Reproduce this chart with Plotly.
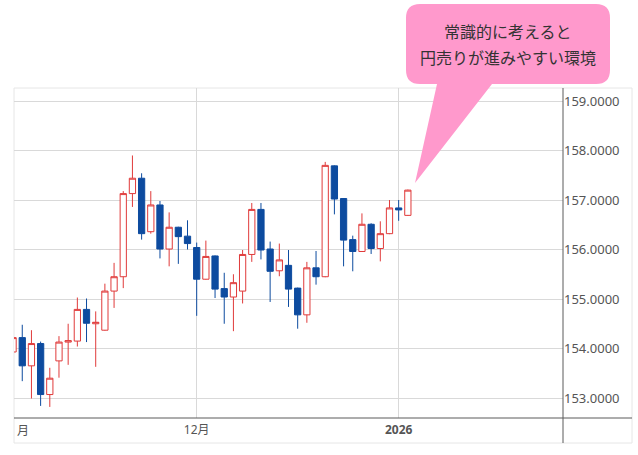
import plotly.graph_objects as go

# ---------------- data ----------------
dates = [
    "2025-11-03", "2025-11-04", "2025-11-05", "2025-11-06", "2025-11-07",
    "2025-11-10", "2025-11-11", "2025-11-12", "2025-11-13", "2025-11-14",
    "2025-11-17", "2025-11-18", "2025-11-19", "2025-11-20", "2025-11-21",
    "2025-11-24", "2025-11-25", "2025-11-26", "2025-11-27", "2025-11-28",
    "2025-12-01", "2025-12-02", "2025-12-03", "2025-12-04", "2025-12-05",
    "2025-12-08", "2025-12-09", "2025-12-10", "2025-12-11", "2025-12-12",
    "2025-12-15", "2025-12-16", "2025-12-17", "2025-12-18", "2025-12-19",
    "2025-12-22", "2025-12-23", "2025-12-24", "2025-12-26", "2025-12-29",
    "2025-12-30", "2025-12-31", "2026-01-02", "2026-01-05",
]
opens = [
    153.93, 154.22, 153.65, 154.10, 153.07,
    153.75, 154.13, 154.15, 154.79, 154.50,
    154.37, 155.16, 155.45, 157.13, 157.44,
    156.36, 156.90, 156.01, 156.45, 156.27,
    156.04, 155.40, 155.87, 155.21, 155.04,
    155.16, 155.90, 156.81, 156.01, 155.57,
    155.68, 155.22, 154.68, 155.63, 155.45,
    157.69, 157.03, 156.20, 155.96, 156.51,
    156.02, 156.32, 156.84, 156.69,
]
highs = [
    154.30, 154.48, 154.37, 154.14, 153.61,
    154.25, 154.50, 155.03, 155.01, 154.75,
    155.31, 155.73, 157.18, 157.90, 157.54,
    157.18, 156.98, 156.75, 156.46, 156.59,
    156.14, 156.18, 155.88, 155.53, 155.50,
    155.99, 156.94, 156.94, 156.16, 156.12,
    155.99, 155.23, 155.75, 155.97, 157.77,
    157.70, 157.04, 156.28, 156.73, 156.53,
    156.57, 157.00, 157.00, 157.21,
]
lows = [
    153.85, 153.34, 152.99, 152.84, 152.82,
    153.41, 153.67, 154.04, 154.13, 153.63,
    154.36, 154.82, 155.22, 156.86, 156.20,
    156.32, 155.82, 155.66, 155.71, 156.00,
    154.66, 155.39, 155.02, 154.50, 154.35,
    154.91, 155.75, 155.80, 154.94, 155.46,
    154.84, 154.40, 154.52, 155.29, 155.44,
    156.71, 155.66, 155.56, 155.95, 155.91,
    155.76, 156.31, 156.58, 156.68,
]
closes = [
    154.22, 153.65, 154.10, 153.07, 153.40,
    154.13, 154.16, 154.79, 154.51, 154.53,
    155.16, 155.45, 157.13, 157.44, 156.32,
    156.90, 156.01, 156.45, 156.26, 156.12,
    155.40, 155.86, 155.20, 155.04, 155.33,
    155.90, 156.81, 155.99, 155.56, 155.79,
    155.20, 154.68, 155.63, 155.45, 157.70,
    157.02, 156.19, 155.96, 156.51, 156.02,
    156.32, 156.84, 156.80, 157.20,
]

month_tick_dates = ["2025-11-03", "2025-12-01", "2026-01-02"]
month_tick_labels = ["11月", "12月", "<b>2026</b>"]
price_ticks = [153, 154, 155, 156, 157, 158, 159]

callout_line1 = "常識的に考えると"
callout_line2 = "円売りが進みやすい環境"

# ---------------- style / layout ----------------
W, H = 638, 455
L, R, T, B = 14, 563, 88, 418
RED = "#e03a3a"
BLUE = "#0d4b9f"
GRID = "#d9d9d9"
AXIS = "#5a5a5a"
PINK = "#ff99cc"
FONT = "Noto Sans, Noto Sans CJK JP, sans-serif"


def px(x):
    return (x - L) / (R - L)


def py(y):
    return (B - y) / (B - T)


fig = go.Figure(
    go.Candlestick(
        x=dates, open=opens, high=highs, low=lows, close=closes,
        increasing=dict(line=dict(color=RED, width=1), fillcolor="white"),
        decreasing=dict(line=dict(color=BLUE, width=1), fillcolor=BLUE),
        whiskerwidth=0,
        showlegend=False,
    )
)

fig.update_layout(
    width=W, height=H,
    margin=dict(l=L, r=W - R, t=T, b=H - B, pad=0),
    paper_bgcolor="white", plot_bgcolor="white",
    font=dict(family=FONT, color="#555555"),
    boxgap=0.2, boxgroupgap=0.15,
    xaxis=dict(
        type="category",
        range=[0.10, 59.9],
        tickmode="array",
        tickvals=month_tick_dates,
        ticktext=month_tick_labels,
        showgrid=True, gridcolor=GRID, gridwidth=1,
        showline=False, zeroline=False,
        ticks="outside", ticklen=1, tickcolor="rgba(0,0,0,0)",
        tickfont=dict(size=12, color="#555555", family=FONT),
        rangeslider=dict(visible=False),
        fixedrange=True,
    ),
    yaxis=dict(
        side="right",
        range=[152.596, 159.263],
        tickmode="array",
        tickvals=price_ticks,
        tickformat=".4f",
        showgrid=True, gridcolor=GRID, gridwidth=1,
        showline=False, zeroline=False,
        ticks="",
        tickfont=dict(size=13, color="#555555", family=FONT),
        fixedrange=True,
    ),
)

shapes = []
# chart card border
shapes.append(dict(type="rect", xref="paper", yref="paper",
                   x0=px(14), x1=px(632), y0=py(443), y1=py(88),
                   line=dict(color="#e6e6e6", width=1), layer="below"))
# bottom axis line (extends into the price-label band)
shapes.append(dict(type="line", xref="paper", yref="paper",
                   x0=px(14), x1=px(632), y0=py(418), y1=py(418),
                   line=dict(color=AXIS, width=1), layer="above"))
# right axis line (extends into the date-label band)
shapes.append(dict(type="line", xref="paper", yref="paper",
                   x0=px(563), x1=px(563), y0=py(443), y1=py(88),
                   line=dict(color=AXIS, width=1), layer="above"))

# speech-bubble callout
bx0, bx1, by0, by1, rad = 406, 610, 4, 84, 14
tail = [(492, 84), (415, 183), (437, 84)]
pts = []
pts.append(f"M {px(bx0 + rad)},{py(by0)}")
pts.append(f"L {px(bx1 - rad)},{py(by0)}")
pts.append(f"Q {px(bx1)},{py(by0)} {px(bx1)},{py(by0 + rad)}")
pts.append(f"L {px(bx1)},{py(by1 - rad)}")
pts.append(f"Q {px(bx1)},{py(by1)} {px(bx1 - rad)},{py(by1)}")
for tx, ty in tail:
    pts.append(f"L {px(tx)},{py(ty)}")
pts.append(f"L {px(bx0 + rad)},{py(by1)}")
pts.append(f"Q {px(bx0)},{py(by1)} {px(bx0)},{py(by1 - rad)}")
pts.append(f"L {px(bx0)},{py(by0 + rad)}")
pts.append(f"Q {px(bx0)},{py(by0)} {px(bx0 + rad)},{py(by0)}")
pts.append("Z")
shapes.append(dict(type="path", xref="paper", yref="paper", path=" ".join(pts),
                   fillcolor=PINK, line=dict(width=0), layer="above"))
fig.update_layout(shapes=shapes)

annotations = [
    dict(x=px(508), y=py(31), xref="paper", yref="paper", text=callout_line1,
         showarrow=False, xanchor="center", yanchor="middle",
         font=dict(size=16, color="#333333", family="Noto Sans CJK JP")),
    dict(x=px(508), y=py(57), xref="paper", yref="paper", text=callout_line2,
         showarrow=False, xanchor="center", yanchor="middle",
         font=dict(size=16, color="#333333", family="Noto Sans CJK JP")),
    # clipped remainder of the "11月" month label at the left edge
    dict(x=px(15), y=py(430), xref="paper", yref="paper", text="月",
         showarrow=False, xanchor="left", yanchor="middle",
         font=dict(size=12, color="#555555", family=FONT)),
]
fig.update_layout(annotations=annotations)

fig.write_html(
    "out.html",
    config={"displayModeBar": False},
    post_script="document.body.style.margin='0';document.body.style.overflow='hidden';",
)
